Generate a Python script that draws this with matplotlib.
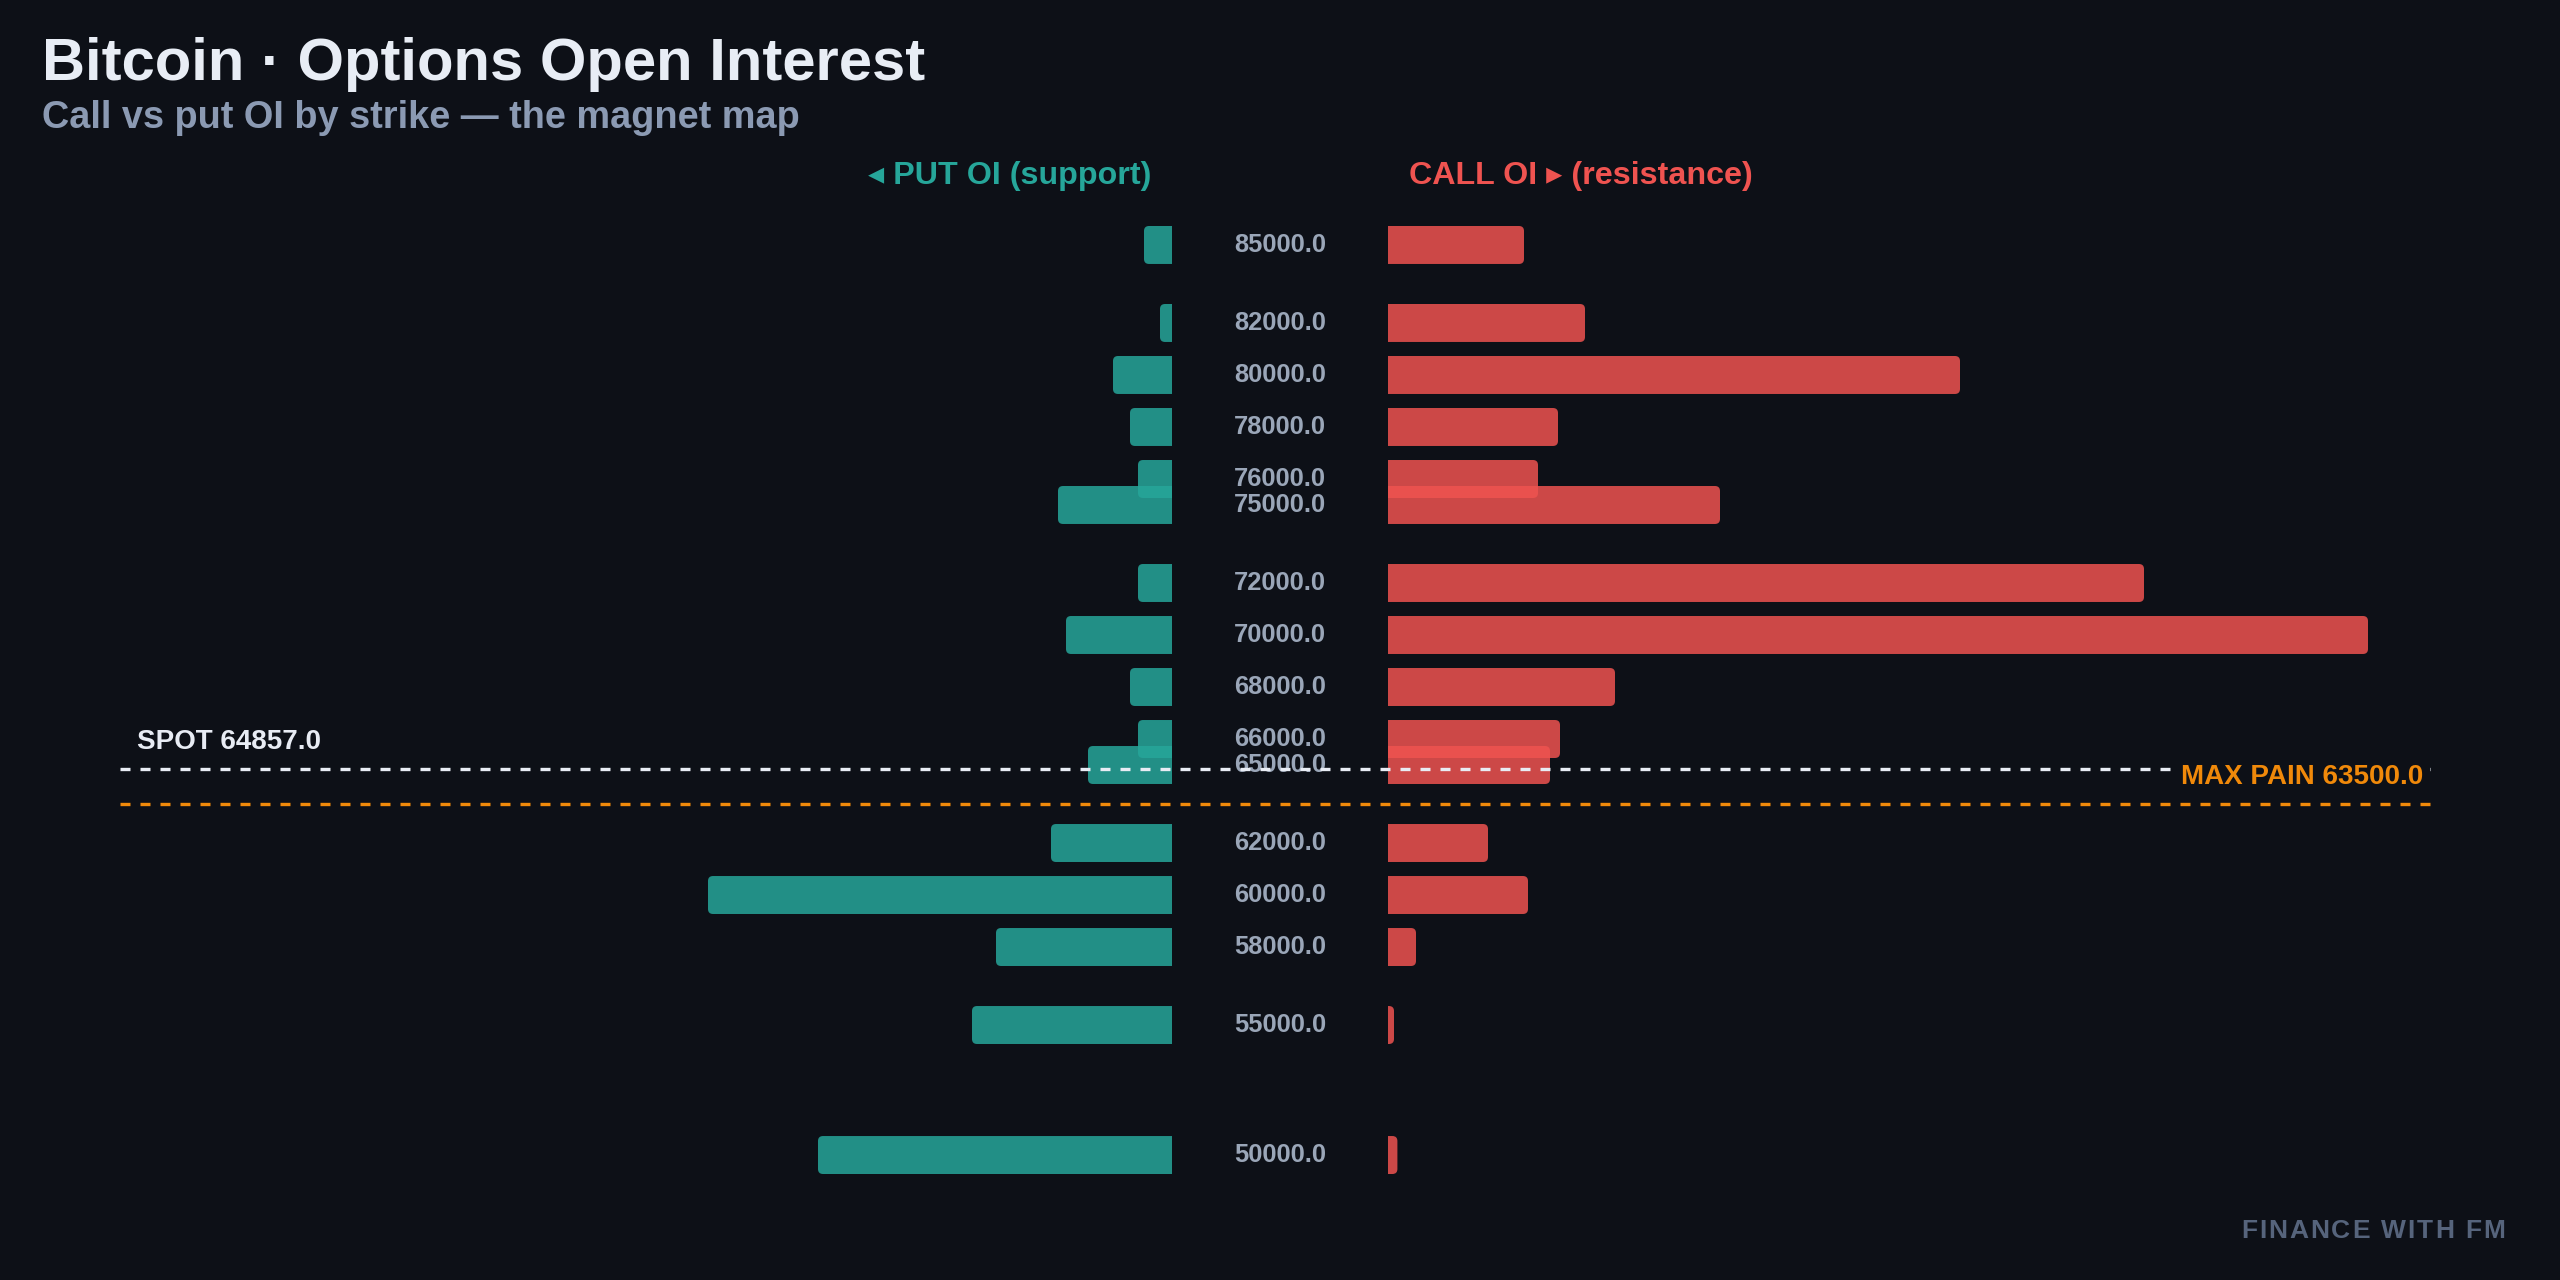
import matplotlib
matplotlib.use("Agg")
import matplotlib.pyplot as plt
from matplotlib.path import Path
from matplotlib.patches import PathPatch
from matplotlib.font_manager import FontProperties, findfont, get_font

# ---------------- data ----------------
strikes = [85000, 82000, 80000, 78000, 76000, 75000, 72000, 70000,
           68000, 66000, 65000, 62000, 60000, 58000, 55000, 50000]
put_oi = [140, 60, 295, 210, 170, 570, 170, 530,
          210, 170, 420, 605, 2320, 880, 1000, 1770]
call_oi = [680, 985, 2860, 850, 750, 1660, 3780, 4900,
           1135, 860, 810, 500, 700, 140, 30, 47]
spot = 64857.0
max_pain = 63500.0

title = "Bitcoin · Options Open Interest"
subtitle = "Call vs put OI by strike — the magnet map"
put_header = "◂ PUT OI (support)"
call_header = "CALL OI ▸ (resistance)"
watermark = "FINANCE WITH FM"

# ---------------- style ----------------
BG = '#0d1017'
PUT_C = '#26a69a'
CALL_C = '#ef5350'
LABEL_C = '#9aa6b8'
SPOT_C = '#e8ecf4'
MP_C = '#f0890a'
FONT = ['Liberation Sans', 'DejaVu Sans']
plt.rcParams['font.family'] = FONT

W, H = 2560, 1280
fig = plt.figure(figsize=(W / 100, H / 100), dpi=100, facecolor=BG)
ax = fig.add_axes([120 / W, 1 - 1200 / H, 2320 / W, 1000 / H])
ax.set_facecolor(BG)
ax.axis('off')

GAP = 540
XL = 5800
ax.set_xlim(-XL, XL)
PAD = 1730
ax.set_ylim(min(strikes) - PAD, max(strikes) + PAD)
BAR_H = 1460

# radius in data units for ~5 px corner
ax_w_px = 2320
ax_h_px = 1000
rx = 5 * (2 * XL) / ax_w_px
ry = 5 * (max(strikes) - min(strikes) + 2 * PAD) / ax_h_px


def bar_patch(x_in, length, d, yc, h, color):
    x_out = x_in + d * length
    r_x = min(rx, length)
    y0, y1 = yc - h / 2, yc + h / 2
    verts = [(x_in, y0), (x_out - d * r_x, y0), (x_out, y0), (x_out, y0 + ry),
             (x_out, y1 - ry), (x_out, y1), (x_out - d * r_x, y1), (x_in, y1), (x_in, y0)]
    codes = [Path.MOVETO, Path.LINETO, Path.CURVE3, Path.CURVE3,
             Path.LINETO, Path.CURVE3, Path.CURVE3, Path.LINETO, Path.CLOSEPOLY]
    return PathPatch(Path(verts, codes), facecolor=color, edgecolor='none',
                     alpha=0.85, zorder=2)


for s, p, c in zip(strikes, put_oi, call_oi):
    ax.add_patch(bar_patch(-GAP, p, -1, s, BAR_H, PUT_C))
    ax.add_patch(bar_patch(GAP, c, 1, s, BAR_H, CALL_C))
    ax.text(0, s, f"{float(s):.1f}", ha='center', va='center', fontsize=18.4,
            fontweight='bold', color=LABEL_C, zorder=3)

ax.axhline(spot, color=SPOT_C, lw=2.4, ls=(0, (3, 3)), zorder=4)
ax.axhline(max_pain, color=MP_C, lw=2.4, ls=(0, (3, 3)), zorder=4)

ax.annotate(f"SPOT {spot:.1f}", xy=(0.0073, spot), xycoords=('axes fraction', 'data'),
            xytext=(0, 14.4), textcoords='offset points', ha='left', va='baseline',
            fontsize=20, fontweight='bold', color=SPOT_C, zorder=5)
ax.annotate(f"MAX PAIN {max_pain:.1f}", xy=(0.9927, max_pain),
            xycoords=('axes fraction', 'data'),
            xytext=(0, 14.4), textcoords='offset points', ha='right', va='baseline',
            fontsize=20, fontweight='bold', color=MP_C, zorder=5,
            bbox=dict(boxstyle='square,pad=0.25', facecolor=BG, edgecolor='none'))

# headers
fig.text(1151 / W, 1 - 184 / H, put_header, ha='right', va='baseline', fontsize=23.2,
         fontweight='bold', color=PUT_C, family=FONT)
fig.text(1409 / W, 1 - 184 / H, call_header, ha='left', va='baseline', fontsize=23.2,
         fontweight='bold', color=CALL_C, family=FONT)

# titles
fig.text(42 / W, 1 - 80 / H, title, ha='left', va='baseline', fontsize=43,
         fontweight='bold', color='#e8edf5')
fig.text(42 / W, 1 - 128 / H, subtitle, ha='left', va='baseline', fontsize=27.3,
         fontweight='bold', color='#8b9ab3')

# watermark with letter spacing
wm_size = 19
wm_prop = FontProperties(family='Liberation Sans', weight='bold', size=wm_size)
ft = get_font(findfont(wm_prop))
ft.set_size(wm_size, 100)
advances = [ft.load_char(ord(ch)).linearHoriAdvance / 65536 for ch in watermark]
spacing = 1.9
total = sum(advances) + spacing * (len(watermark) - 1)
x = 2505 - total
for ch, adv in zip(watermark, advances):
    fig.text(x / W, 1 - 1238 / H, ch, ha='left', va='baseline', fontproperties=wm_prop,
             color='#56647c')
    x += adv + spacing

fig.savefig('out.png', dpi=100, facecolor=BG)
